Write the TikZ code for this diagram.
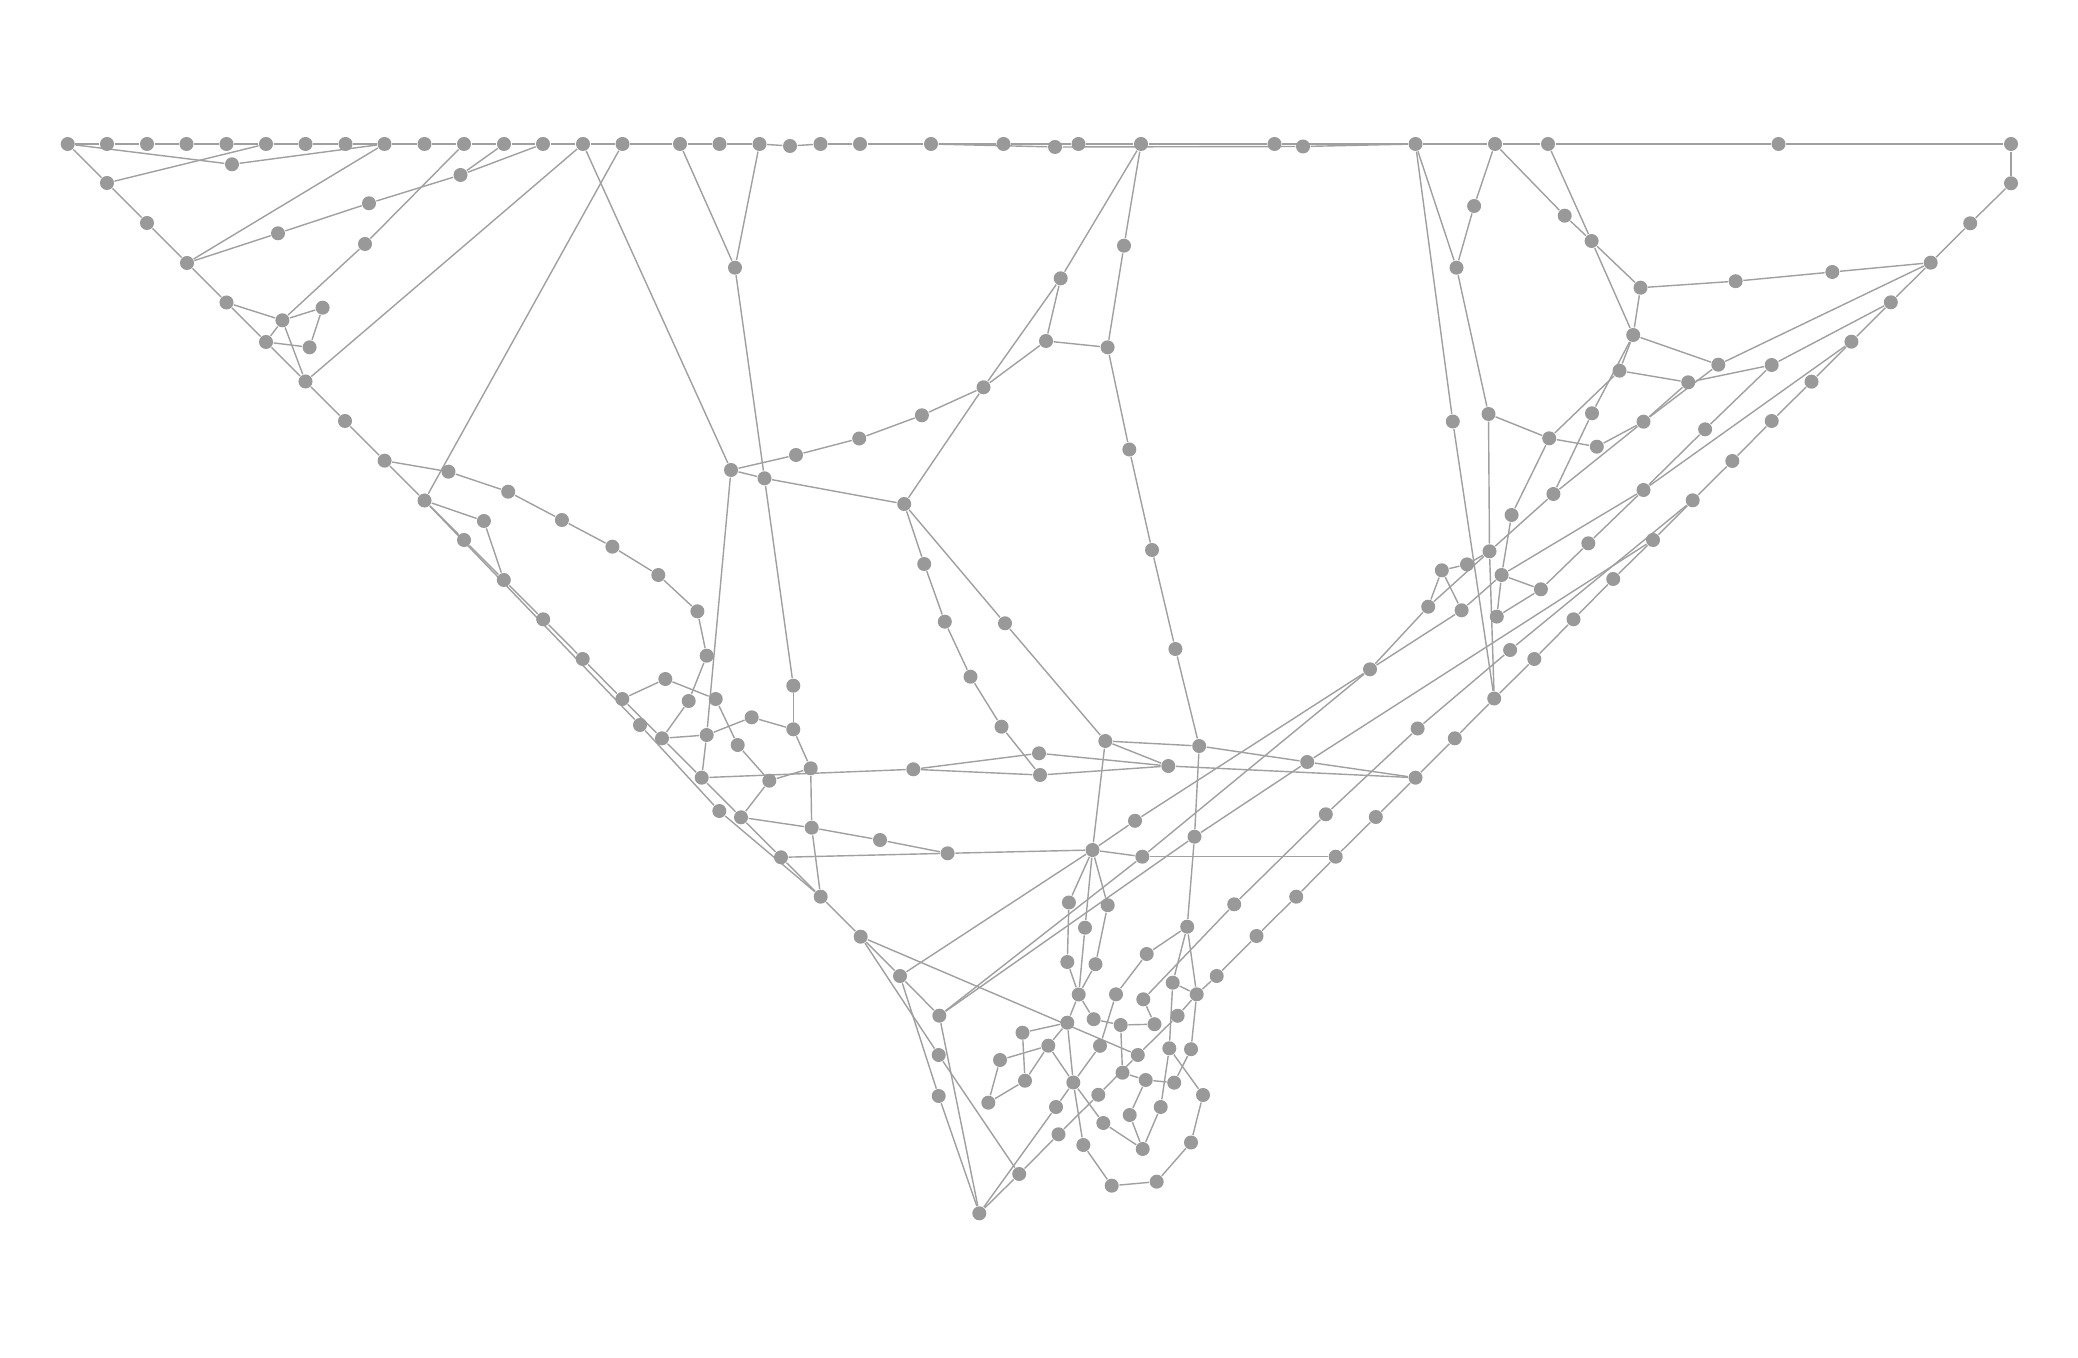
\documentclass[tikz,border=0pt]{standalone}
\usepackage{tikz}
\pgfdeclarelayer{bg}
\pgfsetlayers{bg,main}
\definecolor{dotc}{RGB}{153,153,153}
\definecolor{linec}{RGB}{160,160,160}
\tikzset{
  dot/.style={circle,fill=dotc,draw=none,inner sep=0pt,minimum size=0.14cm},
  edge/.style={draw=linec,line width=0.4pt}
}
\begin{document}
\begin{tikzpicture}[x=0.01cm,y=-0.01cm]
\useasboundingbox (0,0) rectangle (2078,1358);
% top row
\foreach \n/\x/\y in {T1/67.7/144,T2/107/144,T3/147/144,T4/186.5/144,T5/226.5/144,T6/266/144,T7/305.5/144,T8/345.5/144,T9/384.5/144,T10/424.5/144,T11/464/144,T12/504/144,T13/543/144,T14/583/144,T15/622.5/144,T16/680/144,T17/719.5/144,T18/759.5/144,T19/790/146,T20/820.5/144,T21/860/144,T22/931/144,T23/1003.5/144,T24/1055/147,T25/1078.5/144,T26/1141/144,T27/1274.5/144,T28/1303/146.5,T29/1415.5/144,T30/1495/144,T31/1548/144,T32/1778.5/144,T33/2011/144}
  \node[dot] (\n) at (\x,\y) {};
% left diagonal
\foreach \n/\x/\y in {L1/107/183,L2/147/223,L3/187/263,L4/226.5/302.5,L5/266/342,L6/305.5/381.5,L7/345/421,L8/384.6/460.7,L9/424.5/500.5,L10/464/540,L11/503.8/580,L12/543.2/619.3,L13/582.7/659,L14/622.3/699,Q4/662/738.3,Q11/701.7/777.7,Q15/741/817.3,L17/781/857.3,L18/820.7/896.7,V1/860.7/936.7,V2/900/976,V3/939.3/1015.7,L15/640/725,L16/719.3/811}
  \node[dot] (\n) at (\x,\y) {};
% right diagonal
\foreach \n/\x/\y in {U1/2011/183.3,U2/1970.2/223.3,U3/1930.7/262.7,U4/1890.8/302.3,U5/1851.4/341.7,U6/1811.5/381.7,U7/1771.7/421,U8/1732.3/461,U9/1692.7/500.3,U10/1653/540,U11/1613.2/579,U12/1573.5/619.3,U13/1534.3/659,U14/1494.2/698.5,U15/1454.8/738.3,U16/1415.5/777.7,U17/1375.8/817,U18/1335.7/856.7,U19/1296.2/896.7,U20/1256.5/936,U21/1216.7/976,B14/1196.7/994.3,B21/1177.6/1015.8,B25/1137.8/1055,B36/1098.3/1094.8,B41/1058.5/1134.3,V7/1019.2/1174,V6/979.3/1213.3}
  \node[dot] (\n) at (\x,\y) {};
% upper left interior
\foreach \n/\x/\y in {A1/232/164.3,K1/278/233.3,K2/369/203.3,K3/460.5/175,C1/365/244,C2/282.4/320.3,C3/322.6/307.7,C4/309.6/347.3,N1/448.5/471.7,N2/508.2/491.7,N3/561.9/520,N4/612.4/546.7,N5/658.3/575,N6/697.4/611.3,N7/706.7/655.7,P1/483.9/521,Q1/665.3/679,Q2/688.7/701,Q3/715.7/699,Q5/706.7/735,Q6/751.7/717.3,Q7/793.3/729.3,Q8/737.7/745,Q9/810.7/768.3,Q10/769.3/780.7,Q12/913.3/769.3,Q13/1039/753.3,Q14/1040/775,Q16/811.7/827.7,Q17/880/840,Q18/947.6/853.3}
  \node[dot] (\n) at (\x,\y) {};
% middle
\foreach \n/\x/\y in {M1/731/470,M2/735/267.7,M3/764.5/478.3,M4/796/455,M5/859.2/438.5,M14/921.9/415.3,M13/983.5/387.3,M15/1046/341,M16/1060.7/278.3,M17/1107.6/347.3,M18/1124/245.7,M19/1129.3/449.5,M20/1152/550,M21/1175.4/649,M22/1199.2/746,M6/904.2/504,M7/924.2/564,M8/944.8/621.7,M9/970.5/676.7,M10/1001.5/726.7,M11/1005/623.3,M12/793.3/685.7,M23/1105.3/741,M24/1168.3/766,H1/1092.5/850,S1/1135/820.8,S2/1142.3/856.7,S3/1194.5/836.7,R1/1307.2/762,R4/1325.8/814.3,R17/1370/669.3}
  \node[dot] (\n) at (\x,\y) {};
% right cluster
\foreach \n/\x/\y in {W1/1456.5/267.7,W2/1452.8/421.5,W3/1474.1/206,W4/1564.7/215.7,W5/1488.5/414,W6/1549.2/438.3,W7/1591.6/241,W8/1640.5/287.7,W9/1633.2/335,W10/1735.6/281.2,W11/1832.3/272,W12/1619.5/370.7,W13/1718.3/364.7,W14/1592/413.3,W15/1688.2/382.3,W16/1771.7/365,W17/1643.5/421.7,W18/1596.8/446.7,W19/1705.1/429.3,W20/1553.4/494,W21/1643.5/490,W22/1511.6/515,W23/1588.3/543.3,W24/1489.5/551.3,W25/1467/564.4,W26/1441.8/570.3,W27/1501.6/575,W28/1540.9/589.3,W29/1428.2/606.7,W30/1461.6/610.3,W31/1496.8/616.6,W32/1510.1/650,W33/1417.6/728.5}
  \node[dot] (\n) at (\x,\y) {};
% bottom cluster
\foreach \n/\x/\y in {B1/1068.9/902.5,B2/1107.7/905.2,B3/1234.2/904.3,B5/1085/927.7,B6/1067.3/962,B7/1095.5/964.2,B8/1078.7/994.5,B9/1187.2/926.7,B10/1146.7/954,B13/1172.7/982.7,B15/1116/994.3,B16/1143.3/999.3,B17/1067.3/1022.7,B18/1093.7/1019.2,B19/1120.7/1025,B20/1154.5/1024.2,B22/1022.5/1032.7,B23/1048.3/1045.7,B24/1100/1045.8,B26/1169.3/1048.3,B27/1191/1049.2,B28/1000/1060,B29/1025/1080.7,B30/988.3/1102.7,B31/1073.3/1082.5,B32/1122.5/1072.7,B33/1145.7/1080,B34/1174.2/1082.7,B35/1203/1095,B37/1056/1107,B38/1129.7/1115,B39/1160.7/1107,B40/1103.3/1123,B42/1083.3/1145,B43/1142.7/1149,B44/1191/1142.5,B45/1111.7/1185.7,B46/1156.7/1181.7,V4/938.7/1055,V5/938.7/1096}
  \node[dot] (\n) at (\x,\y) {};
\begin{pgfonlayer}{bg}
% top row
\foreach \a/\b in {T1/T2,T2/T3,T3/T4,T4/T5,T5/T6,T6/T7,T7/T8,T8/T9,T9/T10,T10/T11,T11/T12,T12/T13,T13/T14,T14/T15,T15/T16,T16/T17,T17/T18,T18/T19,T19/T20,T20/T21,T21/T22,T22/T23,T23/T25,T25/T26,T26/T27,T27/T29,T29/T30,T30/T31,T31/T32,T32/T33,T22/T24,T24/T28,T28/T29}
  \draw[edge] (\a) -- (\b);
% left boundary
\foreach \a/\b in {T1/L1,L1/L2,L2/L3,L3/L4,L4/L5,L5/L6,L6/L7,L7/L8,L8/L9,L9/L10,L10/L11,L11/L12,L12/L13,L13/L14,L14/Q4,Q4/Q11,Q11/Q15,Q15/L17,L17/L18,L18/V1,V1/V2,V2/V3,L9/L15,L15/L16,L16/L18}
  \draw[edge] (\a) -- (\b);
% right boundary
\foreach \a/\b in {T33/U1,U1/U2,U2/U3,U3/U4,U4/U5,U5/U6,U6/U7,U7/U8,U8/U9,U9/U10,U10/U11,U11/U12,U12/U13,U13/U14,U14/U15,U15/U16,U16/U17,U17/U18,U18/U19,U19/U20,U20/U21,U21/B14,B14/B21,B21/B25,B25/B36,B36/B41,B41/V7,V7/V6}
  \draw[edge] (\a) -- (\b);
% upper left
\foreach \a/\b in {T1/A1,A1/T9,L1/T6,L3/T9,L3/K1,K1/K2,K2/K3,K3/T12,K3/T13,T11/C1,C1/C2,C2/L4,C2/C3,C2/L5,C2/L6,C3/C4,C4/L5,L6/T14,T15/L9,L8/N1,N1/N2,N2/N3,N3/N4,N4/N5,N5/N6,N6/N7,N7/Q2,Q2/Q4,Q4/Q5,L9/P1,P1/L11,L14/Q1,Q1/Q3,Q3/Q8,Q8/Q10,Q10/Q9,Q10/Q15,Q5/Q6,Q6/Q7,Q7/Q9,Q9/Q16,Q16/L18,Q15/Q16,Q16/Q17,Q17/Q18,L17/Q18,Q11/Q12,Q12/Q13,Q12/Q14}
  \draw[edge] (\a) -- (\b);
% middle
\foreach \a/\b in {T14/M1,T16/M2,T18/M2,M2/M3,M1/M3,M3/M6,M1/M4,M4/M5,M5/M14,M14/M13,M13/M6,M13/M15,M13/M16,M15/M16,T26/M16,T26/M18,M15/M17,M17/M18,M17/M19,M19/M20,M20/M21,M21/M22,M3/M12,M12/Q7,M1/Q5,Q5/Q11,M6/M7,M7/M8,M8/M9,M9/M10,M10/Q14,M6/M11,M11/M23,M23/M22,M23/M24,M23/H1,Q13/M24,Q14/M24,M22/R1,R1/U16,M24/U16,M22/S3,S3/B9,V3/S3,S3/R1,R1/U10,V3/S2,S2/R17,V2/H1,H1/S1,S1/R17,Q18/H1,H1/S2,S2/U18,B3/R4,R4/W33,W33/W32,W32/U9,B16/B3}
  \draw[edge] (\a) -- (\b);
% right cluster
\foreach \a/\b in {T29/W1,T29/W2,W2/U14,T30/W3,W3/W1,T30/W4,W4/W7,T31/W7,W7/W8,W7/W9,W8/W9,W8/W10,W10/W11,W11/U3,W9/W12,W9/W13,W9/W14,W14/W20,W12/W6,W12/W15,W13/U3,W13/W17,W15/W16,W16/U4,W15/W17,W17/W18,W17/W20,W18/W6,W1/W5,W5/W6,W5/W24,W24/U14,W6/W22,W22/W27,W27/W31,W20/W24,W24/W29,W24/W25,W25/W26,W26/W29,W26/W30,R17/W29,R17/W30,W30/W27,W27/W28,W27/W21,W28/W23,W28/W31,W23/W21,W21/W19,W19/W16,U5/W21}
  \draw[edge] (\a) -- (\b);
% bottom cluster
\foreach \a/\b in {H1/B1,H1/B2,H1/B5,B1/B6,B2/B7,B5/B8,B6/B8,B7/B8,B8/B17,B8/B18,B17/B22,B17/B23,B17/B31,B22/B29,B23/B28,B23/B29,B23/B31,B28/B30,B29/B30,V6/B37,B37/B31,B31/B24,B31/B42,B31/B40,B24/B15,B15/B10,B10/B9,B9/B13,B13/B26,B26/B39,B26/B35,B9/B14,B13/B14,B14/B27,B27/B34,B34/B33,B33/B32,B32/B19,B19/B20,B20/B16,B18/B19,B33/B38,B38/B43,B43/B39,B43/B40,B35/B44,B44/B46,B46/B45,B45/B42,V1/V4,V4/V7,V2/V5,V5/V6,V3/V6,V1/B25}
  \draw[edge] (\a) -- (\b);
\end{pgfonlayer}
\end{tikzpicture}
\end{document}
